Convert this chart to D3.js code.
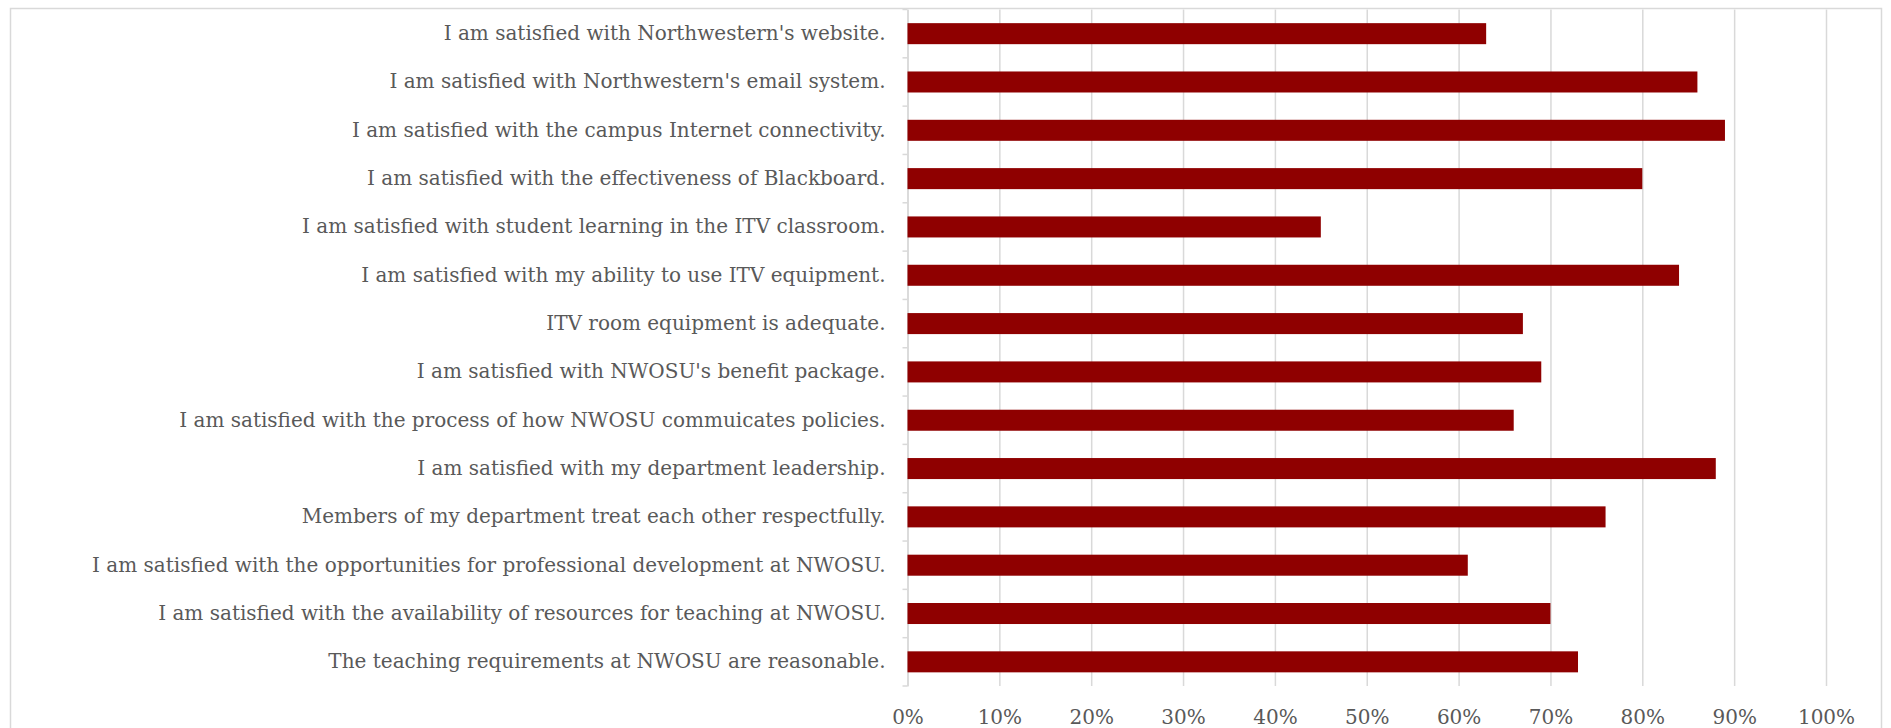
<!DOCTYPE html>
<html>
<head>
<meta charset="utf-8">
<script src="https://cdn.jsdelivr.net/npm/d3@7/dist/d3.min.js"></script>
<style>
  body { margin: 0; background: #fff; }
  svg { display: block; }
  text { font-family: 'DejaVu Serif', Georgia, serif; fill: #595959; }
</style>
</head>
<body>
<svg id="chart" width="1891" height="728"></svg>
<script>
'use strict';

var questions = [
  "I am satisfied with Northwestern's website.",
  "I am satisfied with Northwestern's email system.",
  'I am satisfied with the campus Internet connectivity.',
  'I am satisfied with the effectiveness of Blackboard.',
  'I am satisfied with student learning in the ITV classroom.',
  'I am satisfied with my ability to use ITV equipment.',
  'ITV room equipment is adequate.',
  "I am satisfied with NWOSU's benefit package.",
  'I am satisfied with the process of how NWOSU commuicates policies.',
  'I am satisfied with my department leadership. ',
  'Members of my department treat each other respectfully.',
  'I am satisfied with the opportunities for professional development at NWOSU.',
  'I am satisfied with the availability of resources for teaching at NWOSU.',
  'The teaching requirements at NWOSU are reasonable.'
];

var agreeShare = [0.63, 0.86, 0.89, 0.80, 0.45, 0.84, 0.67, 0.69, 0.66, 0.88, 0.76, 0.61, 0.70, 0.73];

var xTicks = [0, 0.1, 0.2, 0.3, 0.4, 0.5, 0.6, 0.7, 0.8, 0.9, 1];

(function () {
  var svg = d3.select('#chart');
  var margins = { top: 9.5, right: 65, bottom: 42, left: 907.5 };
  var width = 1891 - margins.left - margins.right;
  var height = 728 - margins.top - margins.bottom;

  // chart frame (runs off the bottom like the original)
  svg.append('rect')
    .attr('x', 10.5).attr('y', 8.5)
    .attr('width', 1871).attr('height', 760)
    .attr('fill', 'none').attr('stroke', '#d9d9d9').attr('stroke-width', 1.5);

  var g = svg.append('g').attr('transform', 'translate(' + margins.left + ',' + margins.top + ')');

  var x = d3.scaleLinear().domain([0, 1]).range([0, width]);
  var y = d3.scaleBand().domain(questions).range([0, height]).paddingInner(0.565).paddingOuter(0.2825);

  // vertical gridlines
  g.append('g')
    .call(d3.axisBottom(x).tickValues(xTicks).tickSize(height).tickFormat(''))
    .call(function (s) {
      s.select('.domain').remove();
      s.selectAll('line').attr('stroke', '#d9d9d9').attr('stroke-width', 1.5);
    });

  // percent labels
  g.append('g')
    .attr('transform', 'translate(0,' + height + ')')
    .call(d3.axisBottom(x).tickValues(xTicks).tickSize(0).tickPadding(24).tickFormat(d3.format('.0%')))
    .call(function (s) {
      s.select('.domain').remove();
      s.selectAll('text').attr('font-size', 20).attr('font-family', null);
    });

  // category axis
  g.append('g')
    .call(d3.axisLeft(y).tickSize(0).tickPadding(22))
    .call(function (s) {
      s.select('.domain').attr('stroke', '#d9d9d9').attr('stroke-width', 1.5);
      s.selectAll('text').attr('font-size', 20).attr('font-family', null);
    });

  // category boundary ticks
  var bounds = d3.range(questions.length + 1).map(function (i) {
    return y.range()[0] + i * y.step();
  });
  g.append('g').selectAll('line').data(bounds).enter().append('line')
    .attr('x1', -5).attr('x2', 0)
    .attr('y1', function (d) { return d; })
    .attr('y2', function (d) { return d; })
    .attr('stroke', '#d9d9d9').attr('stroke-width', 1.5);

  g.append('g').attr('fill', '#8f0000').selectAll('rect').data(agreeShare).enter().append('rect')
    .attr('x', 0)
    .attr('y', function (d, i) { return y(questions[i]); })
    .attr('width', function (d) { return x(d); })
    .attr('height', y.bandwidth());
})();
</script>
</body>
</html>
